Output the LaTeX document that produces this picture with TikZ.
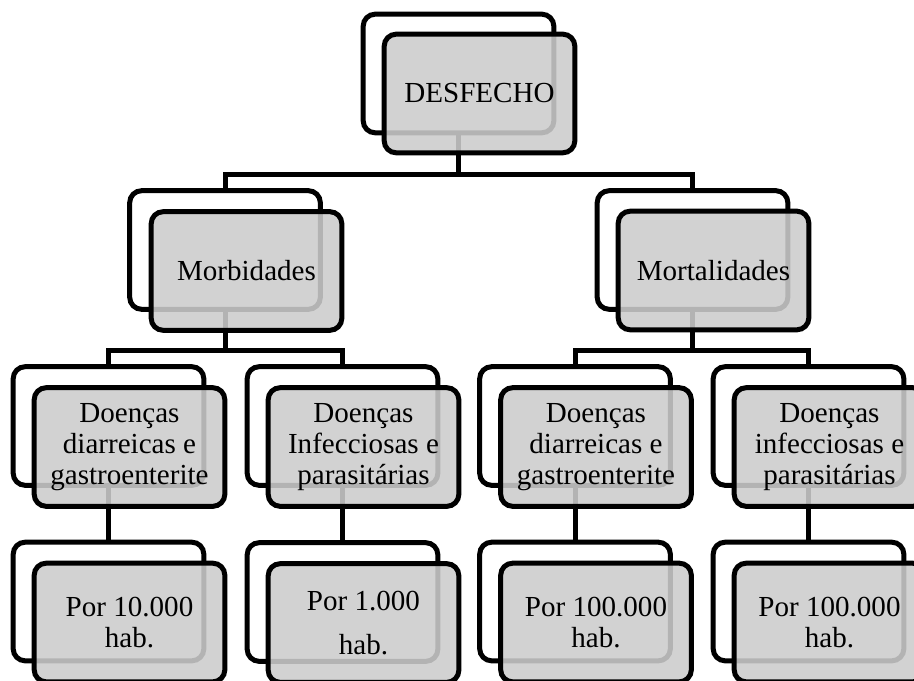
\documentclass[tikz,border=0pt]{standalone}
\usepackage{fontspec}
\setmainfont{Liberation Serif}
\usetikzlibrary{positioning}

\begin{document}
\begin{tikzpicture}[x=0.75pt, y=-0.75pt,
        backbox/.style={draw, line width=3.75pt, rounded corners=9pt, fill=white,
            minimum width=143pt, minimum height=89pt, inner sep=0pt},
        frontbox/.style={backbox, fill=black!20, fill opacity=0.88, text opacity=1,
            align=center, font=\fontsize{21.8pt}{23.3pt}\selectfont},
        link/.style={line width=3.75pt}]
            \useasboundingbox (0,0) rectangle (914,681);

            % boxes behind
            \node[backbox] (desfB) at (458.5, 73.5) {};
            \node[backbox] (morbB) at (225, 250) {};
            \node[backbox] (mortB) at (692.5, 250) {};
            \node[backbox] (morbDiarB) at (108.5, 426) {};
            \node[backbox] (morbInfB) at (342.5, 426) {};
            \node[backbox] (mortDiarB) at (575, 426) {};
            \node[backbox] (mortInfB) at (808.5, 426) {};
            \node[backbox] (morbDiarTaxaB) at (108.5, 601.5) {};
            \node[backbox] (morbInfTaxaB) at (342.5, 602) {};
            \node[backbox] (mortDiarTaxaB) at (575, 601.5) {};
            \node[backbox] (mortInfTaxaB) at (808.5, 601.5) {};

            \draw[link] (desfB.south) -- ++(0,39) -| (morbB.north);
            \draw[link] (desfB.south) -- ++(0,39) -| (mortB.north);
            \draw[link] (morbB.south) -- ++(0,39) -| (morbDiarB.north);
            \draw[link] (morbB.south) -- ++(0,39) -| (morbInfB.north);
            \draw[link] (mortB.south) -- ++(0,39) -| (mortDiarB.north);
            \draw[link] (mortB.south) -- ++(0,39) -| (mortInfB.north);
            \draw[link] (morbDiarB) -- (morbDiarTaxaB);
            \draw[link] (morbInfB) -- (morbInfTaxaB);
            \draw[link] (mortDiarB) -- (mortDiarTaxaB);
            \draw[link] (mortInfB) -- (mortInfTaxaB);

            % boxes in front
            \node[frontbox] (desf) at (479.5, 93.5) {DESFECHO};
            \node[frontbox] (morb) at (246.5, 271) {Morbidades};
            \node[frontbox] (mort) at (713.5, 270.5) {Mortalidades};
            \node[frontbox] (morbDiar) at (129.5, 447) {Doenças\\diarreicas e\\gastroenterite};
            \node[frontbox] (morbInf) at (363.5, 447) {Doenças\\Infecciosas e\\parasitárias};
            \node[frontbox] (mortDiar) at (596, 447) {Doenças\\diarreicas e\\gastroenterite};
            \node[frontbox] (mortInf) at (829.5, 447) {Doenças\\infecciosas e\\parasitárias};
            \node[frontbox] (morbDiarTaxa) at (129.5, 622.5) {Por 10.000\\hab.};
            \node[frontbox] (morbInfTaxa) at (363.5, 623) {Por 1.000\\[10pt]hab.};
            \node[frontbox] (mortDiarTaxa) at (596, 622.5) {Por 100.000\\hab.};
            \node[frontbox] (mortInfTaxa) at (829.5, 622.5) {Por 100.000\\hab.};
        \end{tikzpicture}
\end{document}
